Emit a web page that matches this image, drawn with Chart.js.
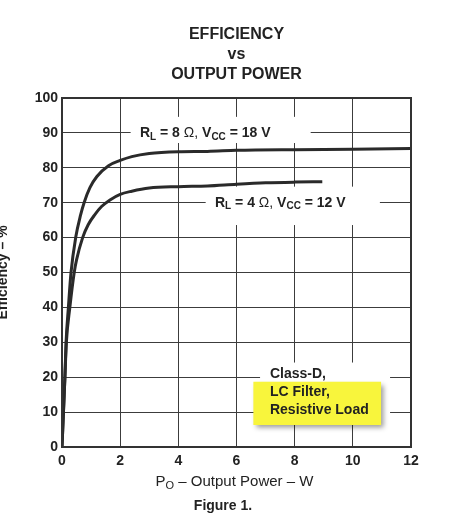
<!DOCTYPE html>
<html lang="en">
<head>
<meta charset="UTF-8">
<title>Efficiency vs Output Power</title>
<script src="https://cdn.jsdelivr.net/npm/chart.js"></script>
<style>
  * { margin: 0; padding: 0; box-sizing: border-box; }
  body { background: #ffffff; width: 453px; height: 529px; overflow: hidden; }
  #wrap { position: relative; margin-left: -5px; width: 458px; height: 529px; }
</style>
</head>
<body>
<div id="wrap"><canvas id="effChart"></canvas></div>
<script>
// RL = 8 ohm, VCC = 18 V
const power8 = [0, 0.05, 0.1, 0.14, 0.22, 0.31, 0.47, 0.64, 0.76, 0.96, 1.2, 1.6, 2, 2.4, 3, 4, 5, 6, 8, 10, 12];
const eff8   = [0, 10, 20, 30, 40, 50, 60, 66.5, 70, 74.3, 77.5, 80.6, 82.1, 83.2, 84.1, 84.6, 84.7, 85.0, 85.2, 85.3, 85.5];
// RL = 4 ohm, VCC = 12 V
const power4 = [0, 0.05, 0.1, 0.15, 0.27, 0.42, 0.5, 0.71, 0.9, 1.13, 1.36, 1.65, 2, 2.4, 3, 4, 5, 6, 7, 8, 8.95];
const eff4   = [0, 10, 20, 30, 40, 50, 53.6, 60, 63.7, 66.6, 68.9, 70.8, 72.4, 73.3, 74.2, 74.6, 74.8, 75.3, 75.7, 75.9, 76.0];

const titleLines = ['EFFICIENCY', 'vs', 'OUTPUT POWER'];
const boxLines = ['Class-D,', 'LC Filter,', 'Resistive Load'];
const xMin = 0, xMax = 12, xStep = 2;
const yMin = 0, yMax = 100, yStep = 10;

const FONT = '"Liberation Sans", Arial, sans-serif';
const INK = '#222222';

// text pieces with subscripts
const label8 = [
    { t: 'R' }, { t: 'L', sub: true }, { t: ' = 8 ' }, { t: 'Ω, ', w: 'normal' },
    { t: 'V' }, { t: 'CC', sub: true }, { t: ' = 18 V' }
];
const label4 = [
    { t: 'R' }, { t: 'L', sub: true }, { t: ' = 4 ' }, { t: 'Ω, ', w: 'normal' },
    { t: 'V' }, { t: 'CC', sub: true }, { t: ' = 12 V' }
];
const xTitle = [
    { t: 'P', w: 'normal', s: 15 }, { t: 'O', sub: true, w: 'normal', s: 11 },
    { t: ' – Output Power – W', w: 'normal', s: 15 }
];

function partFont(p) {
    return (p.w || 'bold') + ' ' + (p.s || (p.sub ? 10 : 14)) + 'px ' + FONT;
}
function partsWidth(ctx, parts) {
    let w = 0;
    parts.forEach(p => { ctx.font = partFont(p); w += ctx.measureText(p.t).width; });
    return w;
}
function drawParts(ctx, parts, x, y) {
    let cx = x;
    parts.forEach(p => {
        ctx.font = partFont(p);
        ctx.fillText(p.t, cx, p.sub ? y + 4 : y);
        cx += ctx.measureText(p.t).width;
    });
}

// annotation boxes in data units: [x0, x1, y0, y1]
const notes = [
    { white: [2.36, 8.55, 87.1, 94.6], at: [2.68, 90], parts: label8 },
    { white: [4.94, 10.93, 63.6, 74.6], at: [5.26, 70], parts: label4 }
];
const classNote = {
    white: [6.81, 11.28, 6.9, 24.2],
    yellow: [6.58, 10.97, 6.3, 18.7],
    x: 7.15,
    ys: [20.9, 15.8, 10.6]
};

const notesPlugin = {
    id: 'notes',
    beforeDatasetsDraw(chart) {
        const { ctx, scales: { x, y } } = chart;
        const rect = b => [x.getPixelForValue(b[0]), y.getPixelForValue(b[3]),
            x.getPixelForValue(b[1]) - x.getPixelForValue(b[0]),
            y.getPixelForValue(b[2]) - y.getPixelForValue(b[3])];
        ctx.save();
        ctx.fillStyle = '#ffffff';
        notes.forEach(n => ctx.fillRect(...rect(n.white)));
        ctx.fillRect(...rect(classNote.white));

        ctx.save();
        ctx.shadowColor = 'rgba(0,0,0,0.4)';
        ctx.shadowBlur = 5;
        ctx.shadowOffsetX = 3;
        ctx.shadowOffsetY = 3;
        ctx.fillStyle = '#f8f53c';
        ctx.fillRect(...rect(classNote.yellow));
        ctx.restore();

        ctx.fillStyle = INK;
        ctx.textBaseline = 'middle';
        ctx.textAlign = 'left';
        notes.forEach(n => drawParts(ctx, n.parts, x.getPixelForValue(n.at[0]), y.getPixelForValue(n.at[1])));
        ctx.font = 'bold 14px ' + FONT;
        boxLines.forEach((t, i) => ctx.fillText(t, x.getPixelForValue(classNote.x), y.getPixelForValue(classNote.ys[i])));
        ctx.restore();
    },
    afterDraw(chart) {
        const { ctx, chartArea: a } = chart;
        ctx.save();
        // plot frame
        ctx.strokeStyle = '#333333';
        ctx.lineWidth = 2;
        ctx.strokeRect(a.left, a.top, a.right - a.left, a.bottom - a.top);
        // x axis title and figure caption
        ctx.fillStyle = INK;
        ctx.textBaseline = 'middle';
        ctx.textAlign = 'left';
        const cx = (a.left + a.right) / 2 - 2;
        drawParts(ctx, xTitle, cx - partsWidth(ctx, xTitle) / 2, a.bottom + 35);
        ctx.font = 'bold 14px ' + FONT;
        ctx.textAlign = 'center';
        ctx.fillText('Figure 1.', chart.width / 2 - 1, a.bottom + 59);
        ctx.restore();
    }
};

const ctx = document.getElementById('effChart').getContext('2d');

new Chart(ctx, {
    type: 'line',
    data: {
        datasets: [
            {
                label: 'RL = 8 Ω, VCC = 18 V',
                data: power8.map((p, i) => ({ x: p, y: eff8[i] })),
                borderColor: '#2a2a2a',
                borderWidth: 3,
                pointRadius: 0,
                cubicInterpolationMode: 'monotone'
            },
            {
                label: 'RL = 4 Ω, VCC = 12 V',
                data: power4.map((p, i) => ({ x: p, y: eff4[i] })),
                borderColor: '#2a2a2a',
                borderWidth: 3,
                pointRadius: 0,
                cubicInterpolationMode: 'monotone'
            }
        ]
    },
    options: {
        responsive: true,
        maintainAspectRatio: false,
        animation: false,
        layout: { padding: { left: 0, right: 42, top: 0, bottom: 0 } },
        plugins: {
            legend: { display: false },
            tooltip: { enabled: false },
            title: {
                display: true,
                text: titleLines,
                fullSize: false,
                color: INK,
                font: { family: FONT, size: 16, weight: 'bold', lineHeight: 1.25 },
                padding: { top: 25, bottom: 13 }
            }
        },
        scales: {
            x: {
                type: 'linear',
                min: xMin,
                max: xMax,
                afterFit: s => { s.height = 82; },
                ticks: {
                    stepSize: xStep,
                    color: INK,
                    padding: 6,
                    maxRotation: 0,
                    font: { family: FONT, size: 14, weight: 'bold' }
                },
                grid: { color: '#3c3c3c', lineWidth: 1, drawTicks: false },
                border: { display: false }
            },
            y: {
                min: yMin,
                max: yMax,
                afterFit: s => { s.width = 67; },
                ticks: {
                    stepSize: yStep,
                    color: INK,
                    padding: 4,
                    font: { family: FONT, size: 14, weight: 'bold' }
                },
                grid: { color: '#3c3c3c', lineWidth: 1, drawTicks: false },
                border: { display: false },
                title: {
                    display: true,
                    text: 'Efficiency – %',
                    color: INK,
                    padding: 0,
                    font: { family: FONT, size: 14, weight: 'bold' }
                }
            }
        }
    },
    plugins: [notesPlugin]
});
</script>
</body>
</html>
